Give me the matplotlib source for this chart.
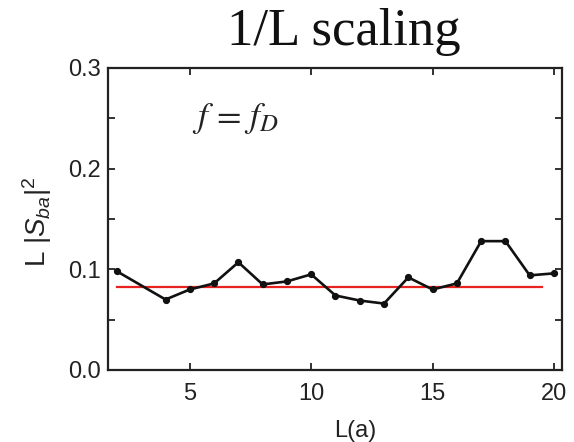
import matplotlib
matplotlib.use("Agg")
import matplotlib.pyplot as plt
from matplotlib.ticker import MultipleLocator

# Scaled transmission L|S_ba|^2 versus system length L (in units of a)
lengths = [2, 4, 5, 6, 7, 8, 9, 10, 11, 12, 13, 14, 15, 16, 17, 18, 19, 20]
scaled_s = [0.098, 0.070, 0.080, 0.086, 0.107, 0.085, 0.088, 0.095, 0.074,
            0.069, 0.066, 0.092, 0.080, 0.086, 0.128, 0.128, 0.094, 0.096]
# Average level drawn as a horizontal reference
mean_level = 0.082
mean_span = [2, 19.5]

x_ticks = [5, 10, 15, 20]
y_ticks = [0.0, 0.1, 0.2, 0.3]

plt.rcParams["font.family"] = ["Liberation Sans", "DejaVu Sans"]
plt.rcParams["mathtext.fontset"] = "custom"
plt.rcParams["mathtext.rm"] = "Liberation Sans"
plt.rcParams["mathtext.it"] = "Liberation Sans:italic"

fig = plt.figure(figsize=(5.74, 4.42), dpi=100)
ax = fig.add_axes([108 / 574, 1 - 370 / 442, (562 - 108) / 574, (370 - 68) / 442])

ax.plot(mean_span, [mean_level, mean_level], color="#e8231f", lw=1.6, zorder=2)
ax.plot(lengths, scaled_s, color="#111111", lw=1.9, marker="o", ms=4.2,
        zorder=3)

ax.set_xlim(1.63, 20.33)
ax.set_ylim(0.0, 0.3)
ax.set_xticks(x_ticks)
ax.set_yticks(y_ticks)
ax.set_yticklabels([f"{v:.1f}" for v in y_ticks])
ax.yaxis.set_minor_locator(MultipleLocator(0.05))
ax.tick_params(which="both", direction="in", top=True, right=True,
               length=5, width=1.3, labelsize=17, colors="#222222")
ax.tick_params(axis="x", pad=9)
ax.tick_params(axis="y", pad=5)
for s in ax.spines.values():
    s.set_linewidth(1.6)
    s.set_color("#222222")

ax.set_xlabel("L(a)", fontsize=17, color="#222222")
ax.xaxis.set_label_coords(0.545, -0.165)
ax.set_ylabel(r"L $|S_{ba}|^2$", fontsize=20, color="#222222")
ax.yaxis.set_label_coords(-0.118, 0.49)

ax.text(0.185, 0.89, r"$f\,=\,f_D$", transform=ax.transAxes, fontsize=25.5,
        math_fontfamily="stix", color="#222222", va="top")

fig.text(344 / 574, 1 - 32 / 442, "1/L scaling", ha="center", va="center",
         fontsize=38, family="Liberation Serif", color="#111111")

fig.savefig("out.png", dpi=100)
